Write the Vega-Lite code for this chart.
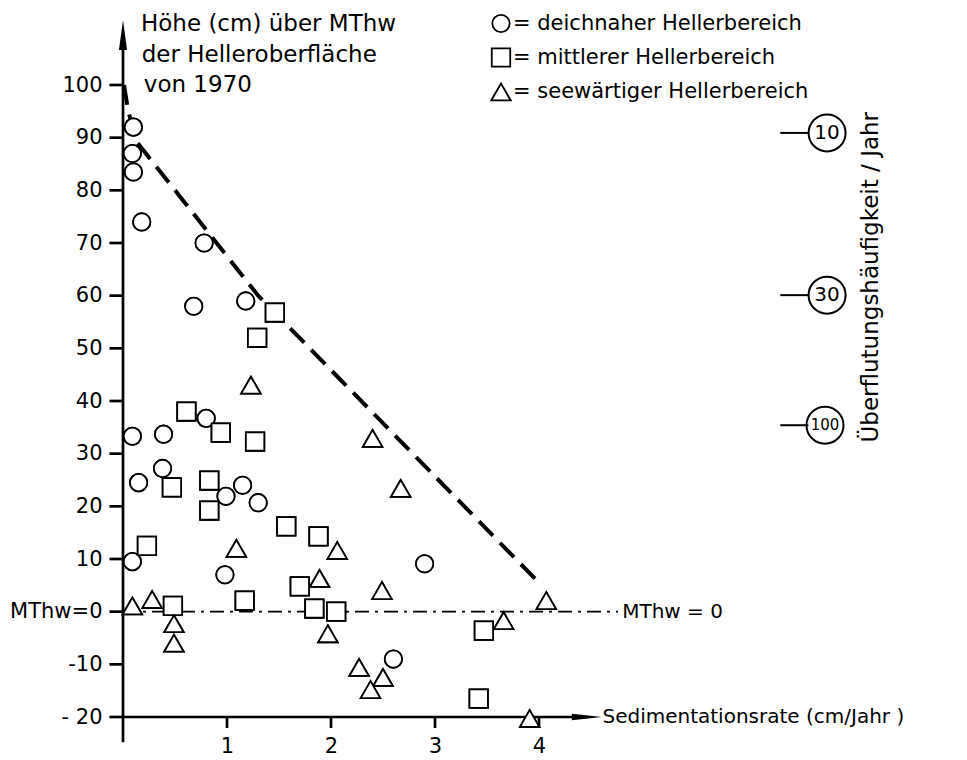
{
  "$schema": "https://vega.github.io/schema/vega-lite/v6.json",
  "width": 844,
  "height": 632,
  "autosize": {"type": "none"},
  "padding": {"left": 123, "top": 85, "right": 0, "bottom": 43},
  "background": "white",
  "config": {
    "view": {"stroke": null},
    "font": "DejaVu Sans",
    "text": {"font": "DejaVu Sans", "fontSize": 20, "color": "black"},
    "axis": {"title": null, "grid": false, "ticks": false, "labelColor": "black", "labelFontSize": 21, "labelFont": "DejaVu Sans"}
  },
  "datasets": {
    "pts": [
      {"rate": 0.1, "hoehe": 92, "bereich": "deichnaher Hellerbereich"},
      {"rate": 0.09, "hoehe": 87, "bereich": "deichnaher Hellerbereich"},
      {"rate": 0.1, "hoehe": 83.5, "bereich": "deichnaher Hellerbereich"},
      {"rate": 0.18, "hoehe": 74, "bereich": "deichnaher Hellerbereich"},
      {"rate": 0.78, "hoehe": 70, "bereich": "deichnaher Hellerbereich"},
      {"rate": 0.68, "hoehe": 58, "bereich": "deichnaher Hellerbereich"},
      {"rate": 1.18, "hoehe": 59, "bereich": "deichnaher Hellerbereich"},
      {"rate": 0.09, "hoehe": 33.3, "bereich": "deichnaher Hellerbereich"},
      {"rate": 0.39, "hoehe": 33.7, "bereich": "deichnaher Hellerbereich"},
      {"rate": 0.15, "hoehe": 24.5, "bereich": "deichnaher Hellerbereich"},
      {"rate": 0.38, "hoehe": 27.2, "bereich": "deichnaher Hellerbereich"},
      {"rate": 0.8, "hoehe": 36.7, "bereich": "deichnaher Hellerbereich"},
      {"rate": 0.99, "hoehe": 21.9, "bereich": "deichnaher Hellerbereich"},
      {"rate": 1.15, "hoehe": 24, "bereich": "deichnaher Hellerbereich"},
      {"rate": 1.3, "hoehe": 20.7, "bereich": "deichnaher Hellerbereich"},
      {"rate": 0.09, "hoehe": 9.5, "bereich": "deichnaher Hellerbereich"},
      {"rate": 0.98, "hoehe": 7, "bereich": "deichnaher Hellerbereich"},
      {"rate": 2.9, "hoehe": 9.1, "bereich": "deichnaher Hellerbereich"},
      {"rate": 2.6, "hoehe": -9, "bereich": "deichnaher Hellerbereich"},
      {"rate": 1.46, "hoehe": 56.8, "bereich": "mittlerer Hellerbereich"},
      {"rate": 1.29, "hoehe": 52, "bereich": "mittlerer Hellerbereich"},
      {"rate": 0.61, "hoehe": 38, "bereich": "mittlerer Hellerbereich"},
      {"rate": 0.94, "hoehe": 34, "bereich": "mittlerer Hellerbereich"},
      {"rate": 1.27, "hoehe": 32.3, "bereich": "mittlerer Hellerbereich"},
      {"rate": 0.47, "hoehe": 23.6, "bereich": "mittlerer Hellerbereich"},
      {"rate": 0.83, "hoehe": 24.9, "bereich": "mittlerer Hellerbereich"},
      {"rate": 0.83, "hoehe": 19.2, "bereich": "mittlerer Hellerbereich"},
      {"rate": 0.23, "hoehe": 12.5, "bereich": "mittlerer Hellerbereich"},
      {"rate": 1.57, "hoehe": 16.2, "bereich": "mittlerer Hellerbereich"},
      {"rate": 1.88, "hoehe": 14.3, "bereich": "mittlerer Hellerbereich"},
      {"rate": 1.7, "hoehe": 4.8, "bereich": "mittlerer Hellerbereich"},
      {"rate": 1.17, "hoehe": 2.1, "bereich": "mittlerer Hellerbereich"},
      {"rate": 0.48, "hoehe": 1.1, "bereich": "mittlerer Hellerbereich"},
      {"rate": 1.84, "hoehe": 0.6, "bereich": "mittlerer Hellerbereich"},
      {"rate": 2.05, "hoehe": 0, "bereich": "mittlerer Hellerbereich"},
      {"rate": 3.47, "hoehe": -3.6, "bereich": "mittlerer Hellerbereich"},
      {"rate": 3.42, "hoehe": -16.5, "bereich": "mittlerer Hellerbereich"},
      {"rate": 1.23, "hoehe": 43, "bereich": "seewärtiger Hellerbereich"},
      {"rate": 2.4, "hoehe": 32.9, "bereich": "seewärtiger Hellerbereich"},
      {"rate": 2.67, "hoehe": 23.4, "bereich": "seewärtiger Hellerbereich"},
      {"rate": 1.09, "hoehe": 12, "bereich": "seewärtiger Hellerbereich"},
      {"rate": 2.06, "hoehe": 11.6, "bereich": "seewärtiger Hellerbereich"},
      {"rate": 1.89, "hoehe": 6.3, "bereich": "seewärtiger Hellerbereich"},
      {"rate": 2.49, "hoehe": 4, "bereich": "seewärtiger Hellerbereich"},
      {"rate": 0.09, "hoehe": 1.1, "bereich": "seewärtiger Hellerbereich"},
      {"rate": 0.28, "hoehe": 2.3, "bereich": "seewärtiger Hellerbereich"},
      {"rate": 0.49, "hoehe": -2.3, "bereich": "seewärtiger Hellerbereich"},
      {"rate": 0.49, "hoehe": -6, "bereich": "seewärtiger Hellerbereich"},
      {"rate": 1.97, "hoehe": -4.2, "bereich": "seewärtiger Hellerbereich"},
      {"rate": 2.27, "hoehe": -10.6, "bereich": "seewärtiger Hellerbereich"},
      {"rate": 2.5, "hoehe": -12.5, "bereich": "seewärtiger Hellerbereich"},
      {"rate": 2.38, "hoehe": -14.8, "bereich": "seewärtiger Hellerbereich"},
      {"rate": 4.07, "hoehe": 2.1, "bereich": "seewärtiger Hellerbereich"},
      {"rate": 3.66, "hoehe": -1.7, "bereich": "seewärtiger Hellerbereich"},
      {"rate": 3.91, "hoehe": -20.3, "bereich": "seewärtiger Hellerbereich"}
    ],
    "grenze": [
      {"rate": 0.01, "hoehe": 100},
      {"rate": 0.05, "hoehe": 95},
      {"rate": 0.14, "hoehe": 89},
      {"rate": 1.3, "hoehe": 60},
      {"rate": 4.0, "hoehe": 5.5}
    ],
    "achsen": [
      {"x0": 0, "x1": 0, "y0": -24.8, "y1": 109.5},
      {"x0": 0, "x1": 4.46, "y0": -20, "y1": -20},
      {"x0": -0.13, "x1": 0.01, "y0": -20, "y1": -20},
      {"x0": -0.13, "x1": 0.01, "y0": -10, "y1": -10},
      {"x0": -0.13, "x1": 0.01, "y0": 0, "y1": 0},
      {"x0": -0.13, "x1": 0.01, "y0": 10, "y1": 10},
      {"x0": -0.13, "x1": 0.01, "y0": 20, "y1": 20},
      {"x0": -0.13, "x1": 0.01, "y0": 30, "y1": 30},
      {"x0": -0.13, "x1": 0.01, "y0": 40, "y1": 40},
      {"x0": -0.13, "x1": 0.01, "y0": 50, "y1": 50},
      {"x0": -0.13, "x1": 0.01, "y0": 60, "y1": 60},
      {"x0": -0.13, "x1": 0.01, "y0": 70, "y1": 70},
      {"x0": -0.13, "x1": 0.01, "y0": 80, "y1": 80},
      {"x0": -0.13, "x1": 0.01, "y0": 90, "y1": 90},
      {"x0": -0.13, "x1": 0.01, "y0": 100, "y1": 100},
      {"x0": 1, "x1": 1, "y0": -19.9, "y1": -22.1},
      {"x0": 2, "x1": 2, "y0": -19.9, "y1": -22.1},
      {"x0": 3, "x1": 3, "y0": -19.9, "y1": -22.1},
      {"x0": 4, "x1": 4, "y0": -19.9, "y1": -22.1}
    ],
    "freq": [
      {"x0": 6.32, "x1": 6.59, "xc": 6.77, "h": 90.9, "t": "10"},
      {"x0": 6.32, "x1": 6.59, "xc": 6.77, "h": 60.1, "t": "30"},
      {"x0": 6.32, "x1": 6.59, "xc": 6.75, "h": 35.4, "t": "100"}
    ],
    "titel": [
      {"x": 0.173, "y": 111.6, "t": "Höhe (cm) über MThw"},
      {"x": 0.18, "y": 105.7, "t": "der Helleroberfläche"},
      {"x": 0.2, "y": 100, "t": "von 1970"}
    ],
    "texte": [
      {"x": 4.8, "y": 0, "t": "MThw = 0"},
      {"x": 4.61, "y": -20, "t": "Sedimentationsrate (cm/Jahr )"}
    ]
  },
  "layer": [
    {
      "data": {"name": "pts"},
      "mark": {"type": "point", "filled": true, "fill": "white", "stroke": "black", "strokeWidth": 1.8, "opacity": 1},
      "encoding": {
        "x": {
          "field": "rate", "type": "quantitative",
          "scale": {"domain": [0, 8.1154], "nice": false, "zero": false},
          "axis": {"values": [1, 2, 3, 4], "format": "d", "domain": false, "grid": false, "ticks": false, "labelFontSize": 21, "labelColor": "black", "labelPadding": 18, "title": null, "labelFont": "DejaVu Sans"}
        },
        "y": {
          "field": "hoehe", "type": "quantitative",
          "scale": {"domain": [-20, 100], "nice": false, "zero": false},
          "axis": {"values": [-20, -10, 0, 10, 20, 30, 40, 50, 60, 70, 80, 90, 100], "domain": false, "grid": false, "ticks": false, "labelFontSize": 21, "labelColor": "black", "labelPadding": 21, "title": null, "labelFont": "DejaVu Sans",
            "labelExpr": "datum.value == 0 ? 'MThw=0' : datum.value == -20 ? '- 20' : datum.value == -10 ? '-10' : datum.label"}
        },
        "shape": {
          "field": "bereich", "type": "nominal",
          "scale": {"domain": ["deichnaher Hellerbereich", "mittlerer Hellerbereich", "seewärtiger Hellerbereich"], "range": ["circle", "square", "triangle-up"]},
          "legend": {
            "orient": "none", "legendX": 367, "legendY": -72, "title": null,
            "labelFontSize": 21, "labelColor": "black", "labelFont": "DejaVu Sans",
            "symbolStrokeWidth": 1.8, "symbolStrokeColor": "black", "symbolFillColor": "white",
            "rowPadding": 8, "labelOffset": 1, "labelLimit": 500,
            "labelExpr": "'= ' + datum.label"
          }
        },
        "size": {
          "field": "bereich", "type": "nominal",
          "scale": {"domain": ["deichnaher Hellerbereich", "mittlerer Hellerbereich", "seewärtiger Hellerbereich"], "range": [300, 380, 470]}
        }
      }
    },
    {
      "data": {"values": [{"x0": 0, "x1": 4.76, "h": 0}]},
      "mark": {"type": "rule", "strokeDash": [14, 6, 3, 6], "strokeWidth": 1.6, "color": "black"},
      "encoding": {
        "x": {"field": "x0", "type": "quantitative"},
        "x2": {"field": "x1"},
        "y": {"field": "h", "type": "quantitative"}
      }
    },
    {
      "data": {"name": "grenze"},
      "mark": {"type": "line", "strokeDash": [20, 10], "strokeWidth": 4, "color": "black"},
      "encoding": {
        "x": {"field": "rate", "type": "quantitative"},
        "y": {"field": "hoehe", "type": "quantitative"}
      }
    },
    {
      "data": {"name": "achsen"},
      "mark": {"type": "rule", "strokeWidth": 2.7, "color": "black"},
      "encoding": {
        "x": {"field": "x0", "type": "quantitative"},
        "x2": {"field": "x1"},
        "y": {"field": "y0", "type": "quantitative"},
        "y2": {"field": "y1"}
      }
    },
    {
      "data": {"values": [{"x": 0, "y": 109.5}]},
      "mark": {"type": "point", "shape": "M0,-1L0.27,1L-0.27,1Z", "size": 900, "filled": true, "color": "black", "opacity": 1},
      "encoding": {
        "x": {"field": "x", "type": "quantitative"},
        "y": {"field": "y", "type": "quantitative"}
      }
    },
    {
      "data": {"values": [{"x": 4.46, "y": -20}]},
      "mark": {"type": "point", "shape": "M1,0L-1,-0.22L-1,0.22Z", "size": 900, "filled": true, "color": "black", "opacity": 1},
      "encoding": {
        "x": {"field": "x", "type": "quantitative"},
        "y": {"field": "y", "type": "quantitative"}
      }
    },
    {
      "data": {"name": "pts"},
      "mark": {"type": "point", "filled": true, "fill": "white", "stroke": "black", "strokeWidth": 1.8, "opacity": 1},
      "encoding": {
        "x": {"field": "rate", "type": "quantitative"},
        "y": {"field": "hoehe", "type": "quantitative"},
        "shape": {"field": "bereich", "type": "nominal"},
        "size": {"field": "bereich", "type": "nominal"}
      }
    },
    {
      "data": {"name": "freq"},
      "mark": {"type": "rule", "strokeWidth": 2, "color": "black"},
      "encoding": {
        "x": {"field": "x0", "type": "quantitative"},
        "x2": {"field": "x1"},
        "y": {"field": "h", "type": "quantitative"}
      }
    },
    {
      "data": {"name": "freq"},
      "mark": {"type": "point", "shape": "circle", "size": 1369, "filled": false, "stroke": "black", "strokeWidth": 2, "opacity": 1},
      "encoding": {
        "x": {"field": "xc", "type": "quantitative"},
        "y": {"field": "h", "type": "quantitative"}
      }
    },
    {
      "data": {"name": "freq"},
      "transform": [{"filter": "datum.t != '100'"}],
      "mark": {"type": "text", "fontSize": 20, "align": "center", "baseline": "middle", "color": "black", "font": "DejaVu Sans"},
      "encoding": {
        "x": {"field": "xc", "type": "quantitative"},
        "y": {"field": "h", "type": "quantitative"},
        "text": {"field": "t"}
      }
    },
    {
      "data": {"name": "freq"},
      "transform": [{"filter": "datum.t == '100'"}],
      "mark": {"type": "text", "fontSize": 15, "align": "center", "baseline": "middle", "color": "black", "font": "DejaVu Sans"},
      "encoding": {
        "x": {"field": "xc", "type": "quantitative"},
        "y": {"field": "h", "type": "quantitative"},
        "text": {"field": "t"}
      }
    },
    {
      "data": {"name": "titel"},
      "mark": {"type": "text", "fontSize": 23, "align": "left", "baseline": "middle", "color": "black", "font": "DejaVu Sans"},
      "encoding": {
        "x": {"field": "x", "type": "quantitative"},
        "y": {"field": "y", "type": "quantitative"},
        "text": {"field": "t"}
      }
    },
    {
      "data": {"name": "texte"},
      "mark": {"type": "text", "fontSize": 20, "align": "left", "baseline": "middle", "color": "black", "font": "DejaVu Sans"},
      "encoding": {
        "x": {"field": "x", "type": "quantitative"},
        "y": {"field": "y", "type": "quantitative"},
        "text": {"field": "t"}
      }
    },
    {
      "data": {"values": [{"x": 7.19, "y": 63.5, "t": "Überflutungshäufigkeit / Jahr"}]},
      "mark": {"type": "text", "fontSize": 23, "align": "center", "baseline": "middle", "angle": 270, "color": "black", "font": "DejaVu Sans"},
      "encoding": {
        "x": {"field": "x", "type": "quantitative"},
        "y": {"field": "y", "type": "quantitative"},
        "text": {"field": "t"}
      }
    }
  ]
}
